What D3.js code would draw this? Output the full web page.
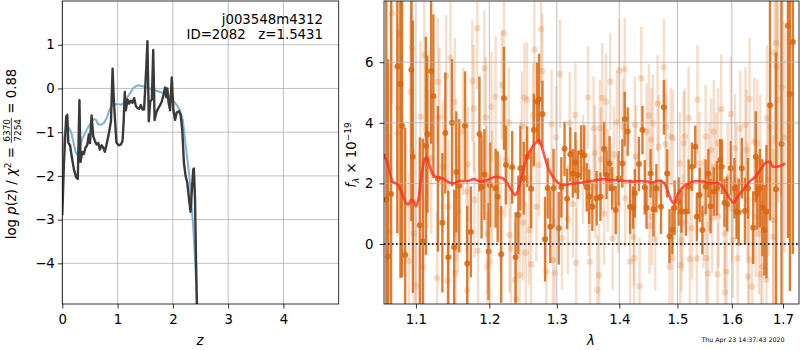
<!DOCTYPE html>
<html>
<head>
<meta charset="utf-8">
<script src="https://cdn.jsdelivr.net/npm/d3@7"></script>
<style>
body { margin: 0; background: #fff; }
svg { font-family: "DejaVu Sans", sans-serif; }
</style>
</head>
<body>
<svg id="fig" width="800" height="350"></svg>
<script>
// ---- left panel: redshift probability ----
var zTicks = [0, 1, 2, 3, 4];
var pzTicks = [-4, -3, -2, -1, 0, 1];

// smooth prior-ish curve  [z, log p]
var pzSmooth = [
  [0.00,-1.49],[0.03,-1.12],[0.06,-0.95],[0.09,-0.89],[0.12,-0.90],[0.16,-1.00],
  [0.20,-1.22],[0.24,-1.45],[0.27,-1.52],[0.31,-1.38],[0.35,-1.20],[0.38,-1.10],
  [0.43,-0.97],[0.47,-0.88],[0.53,-0.76],[0.57,-0.70],[0.61,-0.72],[0.65,-0.82],
  [0.70,-0.83],[0.75,-0.79],[0.80,-0.69],[0.86,-0.47],[0.90,-0.40],[0.95,-0.36],
  [1.01,-0.36],[1.07,-0.37],[1.12,-0.32],[1.16,-0.23],[1.22,-0.12],[1.28,0.00],
  [1.33,0.05],[1.375,0.07],[1.45,0.05],[1.53,0.02],[1.65,-0.03],[1.77,-0.08],
  [1.87,-0.13],[1.95,-0.19],[2.02,-0.30],[2.07,-0.38],[2.13,-0.50],[2.18,-0.72],
  [2.22,-1.18],[2.26,-1.60],[2.30,-2.02],[2.34,-2.70],[2.37,-3.20],[2.40,-3.90],
  [2.44,-4.93],[2.46,-5.40]
];

// jagged chi2 curve  [z, log p]
var pzFit = [
  [0.00,-2.90],[0.03,-1.70],[0.07,-0.65],[0.09,-0.60],[0.11,-1.25],[0.14,-1.30],
  [0.17,-1.55],[0.21,-1.85],[0.25,-2.03],[0.28,-2.07],[0.31,-0.27],[0.33,-1.68],
  [0.36,-1.45],[0.39,-1.50],[0.42,-1.35],[0.45,-1.30],[0.48,-1.05],[0.50,-1.25],
  [0.53,-0.62],[0.56,-1.10],[0.59,-1.20],[0.62,-1.28],[0.65,-1.25],[0.68,-1.40],
  [0.71,-1.30],[0.74,-1.35],[0.77,-1.45],[0.80,-1.28],[0.84,-1.05],[0.88,-0.75],
  [0.91,0.45],[0.93,-0.20],[0.95,-0.65],[0.98,-1.24],[1.02,-1.30],[1.06,-1.28],
  [1.09,-1.20],[1.11,-0.75],[1.13,-0.08],[1.15,-0.50],[1.18,-0.25],[1.21,-0.35],
  [1.24,-0.28],[1.27,-0.33],[1.30,-0.22],[1.33,-0.40],[1.36,-0.45],[1.39,-0.47],
  [1.42,-0.38],[1.45,-0.48],[1.48,-0.48],[1.52,0.50],[1.54,1.08],[1.565,-0.75],
  [1.59,-0.30],[1.62,-0.25],[1.645,0.88],[1.67,-0.72],[1.70,-0.55],[1.73,-0.47],
  [1.76,-0.40],[1.80,-0.30],[1.83,-0.15],[1.86,0.02],[1.88,-0.20],[1.90,0.00],
  [1.92,-0.30],[1.95,-0.50],[1.98,0.25],[2.01,-0.50],[2.04,-0.72],[2.07,-0.55],
  [2.11,-0.52],[2.14,-0.60],[2.17,-0.95],[2.20,-1.70],[2.23,-2.00],[2.26,-2.15],
  [2.29,-2.50],[2.32,-2.82],[2.35,-2.20],[2.37,-1.85],[2.38,-1.83],[2.40,-2.50],
  [2.42,-4.00],[2.44,-5.30]
];

// ---- right panel: spectrum ----
var lamTicks = [1.1, 1.2, 1.3, 1.4, 1.5, 1.6, 1.7];
var fluxTicks = [0, 2, 4, 6];

// [lambda, flux, err]
var specDark = [
  [1.062,1.47,6.8],[1.064,-0.40,6.5],[1.068,1.65,6.9],[1.076,5.86,5.5],[1.080,5.28,6.4],
  [1.082,3.90,5.0],[1.086,-0.36,4.2],[1.094,5.75,5.0],[1.096,2.88,4.5],[1.105,0.62,2.9],
  [1.109,0.08,3.4],[1.113,3.24,3.6],[1.115,3.62,2.6],[1.120,5.71,2.4],[1.123,4.88,2.7],
  [1.129,2.15,2.4],[1.135,0.70,2.3],[1.139,3.66,2.0],[1.143,-0.44,2.2],[1.148,4.00,2.1],
  [1.151,-0.11,1.9],[1.154,2.38,2.0],[1.158,1.92,2.2],[1.166,3.90,1.8],[1.169,-0.64,1.9],
  [1.174,0.40,1.5],[1.186,3.63,1.9],[1.189,1.88,1.7],[1.193,2.29,1.5],[1.199,-0.25,1.6],
  [1.201,1.95,1.4],[1.209,1.84,1.3],[1.212,1.56,1.5],[1.217,-0.34,1.6],[1.221,4.81,1.7],
  [1.224,2.61,1.3],[1.233,2.53,1.2],[1.238,-0.44,1.5],[1.242,0.96,1.3],[1.245,2.50,1.4],
  [1.250,2.17,1.2],[1.255,2.88,1.0],[1.261,1.82,1.3],[1.265,3.76,1.2],[1.270,4.70,1.3],
  [1.273,4.78,1.5],[1.278,4.29,1.1],[1.282,0.16,1.4],[1.286,1.84,1.0],[1.290,0.57,1.2],
  [1.295,1.84,1.3],[1.303,0.52,1.2],[1.307,1.87,1.0],[1.312,3.14,0.9],[1.316,1.49,1.0],
  [1.321,2.96,0.9],[1.325,2.33,0.8],[1.329,2.69,1.0],[1.333,2.28,0.8],[1.338,3.02,0.9],
  [1.343,2.92,1.0],[1.347,1.87,0.8],[1.351,1.56,0.9],[1.356,1.23,0.8],[1.363,1.51,0.9],
  [1.369,1.56,0.8],[1.375,3.14,0.9],[1.379,2.28,0.8],[1.384,2.66,0.9],[1.388,1.84,0.7],
  [1.394,1.12,0.8],[1.399,2.17,0.9],[1.405,2.66,0.8],[1.409,4.12,0.9],[1.414,3.71,0.8],
  [1.418,1.23,0.9],[1.423,1.20,0.7],[1.426,1.67,0.8],[1.433,2.64,0.9],[1.439,3.76,0.8],
  [1.443,1.87,0.9],[1.446,1.20,0.7],[1.453,2.33,0.8],[1.458,1.15,0.9],[1.463,1.84,0.8],
  [1.471,1.23,0.9],[1.476,4.51,0.9],[1.482,2.33,0.8],[1.486,0.26,0.9],[1.491,0.46,0.8],
  [1.495,1.20,0.9],[1.502,1.40,0.8],[1.507,1.07,0.7],[1.515,1.07,0.8],[1.520,1.89,0.9],
  [1.526,2.55,0.8],[1.532,3.21,0.7],[1.535,0.90,0.8],[1.540,1.62,0.9],[1.545,0.46,0.8],
  [1.551,1.89,0.9],[1.556,2.33,0.8],[1.560,1.25,0.9],[1.566,1.73,0.8],[1.572,1.84,0.9],
  [1.578,2.77,0.7],[1.581,2.55,0.9],[1.586,1.36,0.8],[1.591,1.32,0.9],[1.598,2.50,0.9],
  [1.605,1.84,1.0],[1.609,1.07,0.9],[1.613,1.05,1.1],[1.619,2.50,1.0],[1.625,1.09,1.1],
  [1.631,1.84,1.0],[1.641,0.54,1.2],[1.646,2.88,1.5],[1.649,1.67,1.2],[1.654,1.84,1.3],
  [1.659,1.20,1.6],[1.663,0.46,1.5],[1.667,1.07,2.2],[1.674,4.58,3.8],[1.686,1.81,4.5],
  [1.697,3.30,6.5],[1.710,7.20,7.0],[1.714,4.95,6.5],[1.720,6.67,7.0]
];

var specLight = [
  [1.066,0.41,3.2],[1.069,7.62,3.0],[1.076,3.66,3.4],[1.077,4.48,2.8],[1.079,6.90,3.1],
  [1.091,-0.56,2.9],[1.093,5.03,2.7],[1.095,6.46,3.0],[1.097,0.35,2.8],[1.100,-1.38,2.6],
  [1.106,4.20,2.5],[1.110,-0.75,2.4],[1.111,6.24,2.6],[1.115,2.80,2.3],[1.120,2.83,2.5],
  [1.128,-1.11,2.2],[1.129,5.36,2.1],[1.131,4.18,2.3],[1.136,2.55,2.2],[1.140,5.55,2.0],
  [1.142,-1.22,2.1],[1.143,1.23,2.2],[1.146,6.13,2.0],[1.152,4.69,2.1],[1.153,-0.97,2.0],
  [1.154,1.62,2.2],[1.156,1.07,2.0],[1.163,3.71,2.1],[1.168,1.73,2.0],[1.169,-1.52,2.1],
  [1.170,2.62,1.9],[1.176,5.38,2.0],[1.178,4.47,2.1],[1.179,1.45,1.9],[1.183,7.12,2.0],
  [1.184,-0.22,2.0],[1.193,5.80,1.9],[1.195,4.18,2.0],[1.196,2.00,1.9],[1.197,-0.75,1.8],
  [1.198,0.35,2.0],[1.201,-0.56,1.9],[1.203,4.53,1.8],[1.204,1.84,1.9],[1.209,4.86,2.0],
  [1.216,1.03,1.9],[1.218,5.25,1.8],[1.221,6.96,2.0],[1.223,2.77,1.9],[1.228,4.01,1.8],
  [1.229,0.30,1.9],[1.231,-0.14,1.8],[1.237,-1.19,1.9],[1.239,-1.81,1.8],[1.244,-1.02,1.9],
  [1.247,3.90,1.8],[1.249,0.70,1.9],[1.251,4.84,1.8],[1.253,-0.29,1.7],[1.255,4.76,1.9],
  [1.258,0.46,1.8],[1.261,-0.67,1.8],[1.264,4.26,1.7],[1.266,6.41,1.9],[1.269,1.23,1.8],
  [1.273,2.61,1.7],[1.276,7.09,1.8],[1.278,5.71,1.9],[1.284,-0.91,1.7],[1.292,3.96,1.8],
  [1.294,-0.53,1.7],[1.297,-0.95,1.8],[1.299,3.52,1.7],[1.305,5.61,1.8],[1.308,0.19,1.7],
  [1.317,0.81,1.8],[1.320,3.99,1.7],[1.325,1.32,1.8],[1.329,4.26,1.7],[1.330,-0.62,1.8],
  [1.331,1.73,1.7],[1.341,2.47,1.8],[1.349,4.84,1.7],[1.350,1.31,1.7],[1.352,-0.58,1.8],
  [1.358,3.82,1.7],[1.360,3.00,1.6],[1.361,1.90,1.7],[1.364,-1.52,1.8],[1.367,-1.03,1.7],
  [1.368,3.82,1.6],[1.370,2.80,1.7],[1.372,4.83,1.8],[1.375,1.01,1.7],[1.378,4.69,1.6],
  [1.381,2.10,1.7],[1.385,5.36,1.6],[1.389,0.18,1.7],[1.391,2.95,1.6],[1.396,4.01,1.7],
  [1.398,1.30,1.6],[1.400,5.72,1.7],[1.406,3.87,1.6],[1.409,5.77,1.7],[1.410,1.50,1.6],
  [1.418,-0.58,1.7],[1.424,0.22,1.6],[1.425,-0.47,1.7],[1.426,3.93,1.6],[1.428,2.88,1.7],
  [1.434,-1.39,1.6],[1.437,5.47,1.7],[1.446,3.71,1.6],[1.450,4.24,1.7],[1.451,0.61,1.6],
  [1.454,3.44,1.7],[1.455,0.90,1.6],[1.457,3.99,1.6],[1.461,0.16,1.7],[1.465,4.64,1.6],
  [1.467,3.21,1.7],[1.476,5.83,1.6],[1.479,3.30,1.7],[1.480,3.87,1.6],[1.486,-0.75,1.7],
  [1.488,3.55,1.6],[1.491,-0.47,1.7],[1.492,3.49,1.6],[1.504,2.66,1.7],[1.505,-0.69,1.6],
  [1.507,0.13,1.7],[1.509,0.70,1.6],[1.511,3.33,1.7],[1.513,3.55,1.6],[1.520,4.15,1.7],
  [1.522,-0.50,1.6],[1.526,0.52,1.7],[1.535,-0.47,1.7],[1.536,4.76,1.8],[1.540,2.66,1.7],
  [1.547,1.01,1.8],[1.551,3.55,1.7],[1.552,-0.47,1.8],[1.555,-0.97,1.7],[1.557,2.22,1.8],
  [1.561,3.10,1.7],[1.563,0.85,1.8],[1.566,3.71,1.7],[1.570,2.55,1.8],[1.573,-1.00,1.7],
  [1.574,3.33,1.8],[1.575,0.92,1.7],[1.580,4.45,1.8],[1.586,0.35,1.8],[1.587,-1.59,1.7],
  [1.590,-0.91,1.8],[1.592,2.20,1.8],[1.598,4.29,1.9],[1.600,1.18,1.8],[1.602,0.13,1.9],
  [1.606,3.16,1.8],[1.609,2.11,1.9],[1.611,-0.47,1.8],[1.616,3.82,1.9],[1.626,3.93,1.9],
  [1.628,3.10,2.0],[1.630,1.45,1.9],[1.631,-1.08,2.0],[1.633,-0.53,1.9],[1.634,4.79,2.0],
  [1.639,-1.41,2.0],[1.643,3.38,2.1],[1.646,0.90,2.0],[1.649,3.33,2.1],[1.652,0.35,2.0],
  [1.655,2.72,2.2],[1.656,-1.00,2.1],[1.659,-0.75,2.2],[1.667,-1.17,2.3],[1.668,4.15,2.4],
  [1.671,2.11,2.5],[1.675,3.87,2.6],[1.680,0.79,2.8],[1.681,0.24,2.9],[1.683,6.30,3.0],
  [1.686,6.63,3.2],[1.688,5.86,3.3],[1.690,4.76,3.4],[1.697,5.17,3.6],[1.703,3.52,3.8]
];

// best-fit model  [lambda, flux]
var model = [
  [1.059,2.97],[1.064,2.61],[1.070,2.06],[1.077,1.95],[1.081,1.73],[1.087,1.36],
  [1.090,1.30],[1.094,1.45],[1.097,1.40],[1.100,1.25],[1.103,1.45],[1.107,2.22],
  [1.110,2.66],[1.114,2.86],[1.117,2.66],[1.122,2.31],[1.126,2.22],[1.133,2.19],
  [1.142,2.06],[1.151,2.00],[1.158,2.08],[1.169,2.08],[1.178,2.14],[1.188,2.06],
  [1.197,2.11],[1.209,2.22],[1.219,2.17],[1.226,2.00],[1.233,1.73],[1.237,1.62],
  [1.241,1.73],[1.248,2.33],[1.255,2.88],[1.263,3.21],[1.270,3.38],[1.273,3.43],
  [1.277,3.21],[1.285,2.61],[1.292,2.28],[1.300,2.06],[1.310,1.95],[1.321,1.98],
  [1.337,2.02],[1.358,2.09],[1.374,2.14],[1.390,2.11],[1.406,2.09],[1.423,2.06],
  [1.434,2.08],[1.448,2.06],[1.454,2.02],[1.460,2.06],[1.468,2.09],[1.477,2.00],
  [1.483,1.73],[1.488,1.48],[1.494,1.34],[1.500,1.62],[1.509,1.86],[1.522,2.02],
  [1.534,2.08],[1.546,2.06],[1.558,2.00],[1.570,2.02],[1.579,1.95],[1.588,1.73],
  [1.597,1.48],[1.603,1.36],[1.611,1.56],[1.621,1.78],[1.634,2.06],[1.647,2.25],
  [1.657,2.50],[1.667,2.70],[1.674,2.72],[1.679,2.55],[1.687,2.55],[1.697,2.59],
  [1.704,2.66]
];

var svg = d3.select('#fig');
var FS = 13.3;
var NB = '\u00a0';
var orange = '#d9660f';

var xL = d3.scaleLinear().domain([0, 5.0]).range([62.3, 338.7]);
var yL = d3.scaleLinear().domain([-4.93, 2.0]).range([304, 1]);
var xR = d3.scaleLog().domain([1.0591, 1.7326]).range([384, 799]);
var yR = d3.scaleLinear().domain([-1.98, 8.02]).range([304, 1]);

function clip(id, x, y) {
  svg.append('clipPath').attr('id', id).append('rect')
    .attr('x', x.range()[0]).attr('y', y.range()[1])
    .attr('width', x.range()[1] - x.range()[0])
    .attr('height', y.range()[0] - y.range()[1]);
}
clip('clipL', xL, yL);
clip('clipR', xR, yR);

function grid(g, x, y, xt, yt) {
  g.selectAll('.gx').data(xt).enter().append('line')
    .attr('x1', d => x(d)).attr('x2', d => x(d))
    .attr('y1', y.range()[0]).attr('y2', y.range()[1])
    .attr('stroke', '#b0b0b0').attr('stroke-width', 0.8);
  g.selectAll('.gy').data(yt).enter().append('line')
    .attr('y1', d => y(d)).attr('y2', d => y(d))
    .attr('x1', x.range()[0]).attr('x2', x.range()[1])
    .attr('stroke', '#b0b0b0').attr('stroke-width', 0.8);
}

function axes(x, y, xt, yt, xf, yf, ypad) {
  var gx = svg.append('g').attr('transform', 'translate(0,' + y.range()[0] + ')')
    .call(d3.axisBottom(x).tickValues(xt).tickFormat(xf).tickSize(4.5).tickPadding(6));
  var gy = svg.append('g').attr('transform', 'translate(' + x.range()[0] + ',0)')
    .call(d3.axisLeft(y).tickValues(yt).tickFormat(yf).tickSize(4.5).tickPadding(ypad));
  [gx, gy].forEach(function (g) {
    g.select('.domain').remove();
    g.attr('font-family', null).attr('font-size', FS);
    g.selectAll('line').attr('stroke', '#000').attr('stroke-width', 0.8);
    g.selectAll('text').attr('fill', '#000');
  });
  svg.append('rect')
    .attr('x', x.range()[0]).attr('y', y.range()[1])
    .attr('width', x.range()[1] - x.range()[0])
    .attr('height', y.range()[0] - y.range()[1])
    .attr('fill', 'none').attr('stroke', '#000').attr('stroke-width', 0.8);
}

// ---------- left panel ----------
grid(svg.append('g'), xL, yL, zTicks, pzTicks);

var lineL = d3.line().x(d => xL(d[0])).y(d => yL(d[1]));
var gL = svg.append('g').attr('clip-path', 'url(#clipL)');
gL.append('path').datum(pzSmooth).attr('d', lineL)
  .attr('fill', 'none').attr('stroke', '#7fb1d9').attr('stroke-width', 2);
gL.append('path').datum(pzFit).attr('d', lineL)
  .attr('fill', 'none').attr('stroke', '#3a3a3a').attr('stroke-width', 2.4)
  .attr('stroke-linejoin', 'round');

axes(xL, yL, zTicks, pzTicks, d3.format('d'), d3.format('d'), 3);

svg.append('text').attr('x', 323).attr('y', 24).attr('text-anchor', 'end')
  .attr('font-size', FS).text('j003548m4312');
svg.append('text').attr('x', 323).attr('y', 39).attr('text-anchor', 'end')
  .attr('font-size', FS).text('ID=2082' + NB + NB + NB + 'z=1.5431');

svg.append('text').attr('x', 200).attr('y', 345).attr('text-anchor', 'middle')
  .attr('font-size', FS).attr('font-style', 'italic').text('z');

// y label with fraction
var yl = svg.append('g').attr('transform', 'translate(16,154) rotate(-90)');
var inner = yl.append('g');
var t1 = inner.append('text').attr('font-size', FS);
t1.append('tspan').text('log' + NB);
t1.append('tspan').attr('font-style', 'italic').text('p');
t1.append('tspan').text('(');
t1.append('tspan').attr('font-style', 'italic').text('z');
t1.append('tspan').text(')' + NB + '/' + NB);
t1.append('tspan').attr('font-style', 'italic').text('χ');
t1.append('tspan').attr('font-size', 9).attr('dy', -5).text('2');
t1.append('tspan').attr('dy', 5).text(NB + '=' + NB);
var w1 = t1.node().getComputedTextLength();
var num = inner.append('text').attr('font-size', 9).attr('y', -6.5).attr('text-anchor', 'middle').text('6370');
var den = inner.append('text').attr('font-size', 9).attr('y', 5).attr('text-anchor', 'middle').text('7254');
var fw = Math.max(num.node().getComputedTextLength(), den.node().getComputedTextLength()) + 2;
num.attr('x', w1 + fw / 2);
den.attr('x', w1 + fw / 2);
inner.append('line').attr('x1', w1).attr('x2', w1 + fw).attr('y1', -4.6).attr('y2', -4.6)
  .attr('stroke', '#000').attr('stroke-width', 0.7);
var t3 = inner.append('text').attr('font-size', FS).attr('x', w1 + fw)
  .text(NB + '=' + NB + '0.88');
var wTot = w1 + fw + t3.node().getComputedTextLength();
inner.attr('transform', 'translate(' + (-wTot / 2) + ',0)');

// ---------- right panel ----------
var gR = svg.append('g').attr('clip-path', 'url(#clipR)');

function errs(g, pts, op, r) {
  g.selectAll(null).data(pts).enter().append('line')
    .attr('x1', d => xR(d[0])).attr('x2', d => xR(d[0]))
    .attr('y1', d => yR(d[1] - d[2])).attr('y2', d => yR(d[1] + d[2]))
    .attr('stroke', orange).attr('stroke-width', 2.4).attr('stroke-opacity', op);
  g.selectAll(null).data(pts).enter().append('circle')
    .attr('cx', d => xR(d[0])).attr('cy', d => yR(d[1])).attr('r', r)
    .attr('fill', orange).attr('fill-opacity', op);
}
errs(gR.append('g'), specLight, 0.22, 3.2);
errs(gR.append('g'), specDark, 0.85, 3.0);

grid(gR.append('g'), xR, yR, lamTicks, fluxTicks);

gR.append('path').datum(model)
  .attr('d', d3.line().curve(d3.curveMonotoneX).x(d => xR(d[0])).y(d => yR(d[1])))
  .attr('fill', 'none').attr('stroke', '#ff2d1f').attr('stroke-opacity', 0.8)
  .attr('stroke-width', 2.6).attr('stroke-linejoin', 'round');

gR.append('line').attr('x1', xR.range()[0]).attr('x2', xR.range()[1])
  .attr('y1', yR(0)).attr('y2', yR(0))
  .attr('stroke', '#000').attr('stroke-width', 1.6).attr('stroke-dasharray', '1.6,2.4');

axes(xR, yR, lamTicks, fluxTicks, d3.format('.1f'), d3.format('d'), 6);

svg.append('text').attr('x', 591).attr('y', 345).attr('text-anchor', 'middle')
  .attr('font-size', FS).attr('font-style', 'italic').text('λ');

var yr = svg.append('text').attr('transform', 'translate(356,155) rotate(-90)')
  .attr('text-anchor', 'middle').attr('font-size', FS);
yr.append('tspan').attr('font-style', 'italic').text('f');
yr.append('tspan').attr('font-size', 9).attr('font-style', 'italic').attr('dy', 3).text('λ');
yr.append('tspan').attr('dy', -3).text(NB + '×' + NB + '10');
yr.append('tspan').attr('font-size', 9).attr('dy', -5).text('−19');

svg.append('text').attr('x', 743).attr('y', 342).attr('text-anchor', 'middle')
  .attr('font-size', 6.3).text('Thu Apr 23 14:37:43 2020');
</script>
</body>
</html>
